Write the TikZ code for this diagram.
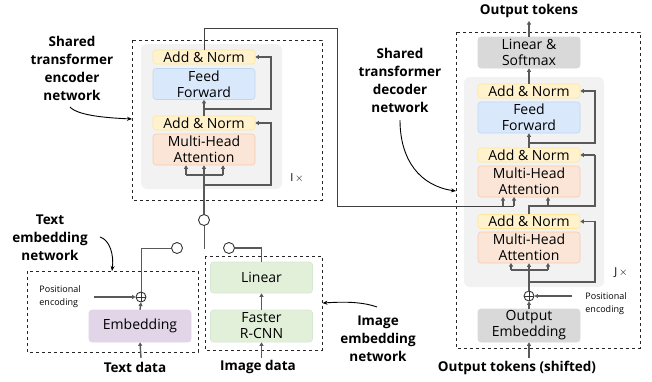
\documentclass[tikz,border=0pt]{standalone}
\usepackage{fontspec}
\setmainfont{Open Sans}
\usetikzlibrary{arrows.meta,shapes.geometric}
\definecolor{ln}{HTML}{595959}
\definecolor{anf}{HTML}{FFF2CC}\definecolor{and}{HTML}{FFE699}
\definecolor{fff}{HTML}{DAE8FC}\definecolor{ffd}{HTML}{BDD7EE}
\definecolor{mhf}{HTML}{FBE5D6}\definecolor{mhd}{HTML}{F8CBAD}
\definecolor{emf}{HTML}{E1D5E7}
\definecolor{grf}{HTML}{E2F0D9}\definecolor{grd}{HTML}{D5E8D4}
\definecolor{gyf}{HTML}{D9D9D9}
\definecolor{bgf}{HTML}{F2F2F2}
\tikzset{
  blk/.style={rounded corners=3pt, minimum width=102pt, inner sep=0pt, align=center, font=\fontsize{14}{16}\selectfont, line width=0.6pt},
  an/.style={blk, fill=anf, draw=and, minimum height=14pt},
  ff/.style={blk, fill=fff, draw=ffd, minimum height=31pt},
  mh/.style={blk, fill=mhf, draw=mhd, minimum height=31pt},
  em/.style={blk, fill=emf, draw=emf, minimum height=32pt},
  gr/.style={blk, fill=grf, draw=grd, minimum height=31pt},
  gy/.style={blk, fill=gyf, draw=gyf, minimum height=31pt},
  bg/.style={fill=bgf, rounded corners=6pt},
  dbox/.style={dashed, line width=0.9pt, draw=black!85},
  conn/.style={draw=ln, line width=1.4pt},
  arr/.style={conn, -{Triangle[length=3.5pt,width=4pt]}},
  thin/.style={draw=ln, line width=0.9pt},
  lbl/.style={align=center, font=\fontsize{13.5}{18}\selectfont\bfseries},
  dlbl/.style={align=center, font=\fontsize{13.5}{15}\selectfont\bfseries},
  small/.style={align=left, font=\fontsize{9}{13}\selectfont},
  sw/.style={circle, draw=black!80, line width=0.9pt, fill=white, minimum size=11pt, inner sep=0pt},
  opl/.style={circle, draw=black!80, line width=0.9pt, fill=white, minimum size=10pt, inner sep=0pt, path picture={\draw[black!80,line width=0.9pt] (path picture bounding box.north)--(path picture bounding box.south) (path picture bounding box.west)--(path picture bounding box.east);}},
  crv/.style={draw=black, line width=0.9pt, -{Stealth[length=5pt,width=4pt]}},
  rep/.style={font=\fontsize{11}{12}\selectfont}
}
\begin{document}
\begin{tikzpicture}[x=1pt,y=-1pt]
\useasboundingbox (0,0) rectangle (652,381);
% ================= Encoder =================
\fill[bg] (141,44) rectangle (282,189);
\draw[dbox] (132,40) rectangle (322,200);
\node[an] (eAN1) at (204,57) {Add \& Norm};
\node[ff] (eFF) at (204,84) {Feed\\Forward};
\node[an] (eAN2) at (204,123) {Add \& Norm};
\node[mh] (eMHA) at (204,149.5) {Multi-Head\\Attention};
\node[rep] (eI) at (297,178) {$\mathrm{I}\,\times$};
\coordinate (eSplit) at (204,175);
\coordinate (eSL) at (186,175);
\coordinate (eSR) at (223,175);
\node[sw] (eSw) at (204,220) {};
\coordinate (eBot) at (204,249);
\draw[conn] (eSw.north) -- (eSplit);
\draw[thin] (eSw.south) -- (eBot);
\draw[conn] (eSL) -- (eSR);
\draw[arr] (eSL) -- (eSL|-eMHA.south);
\draw[arr] (eSplit) -- (eMHA.south);
\draw[arr] (eSR) -- (eSR|-eMHA.south);
\coordinate (eR1) at (204,185);
\draw[arr] (eR1) -- (271,185) -- (271,123) -- (eAN2.east);
\draw[arr] (eAN2.north) -- (eFF.south);
\coordinate (eR2) at (204,109);
\draw[arr] (eR2) -- (271,109) -- (271,57) -- (eAN1.east);
\node[lbl] (eLbl) at (72,68) {Shared\\transformer\\encoder\\network};
\draw[crv] (70,107) .. controls (78,116) and (110,118) .. (132,119);
% ================= Decoder =================
\fill[bg] (464,77) rectangle (604,287);
\draw[dbox] (456,32) rectangle (640,348);
\node[gy] (dLS) at (529,52.5) {Linear \&\\Softmax};
\node[an] (dAN1) at (529,91) {Add \& Norm};
\node[ff] (dFF) at (529,117.5) {Feed\\Forward};
\node[an] (dAN2) at (529,155) {Add \& Norm};
\node[mh] (dMHA2) at (529,181.5) {Multi-Head\\Attention};
\node[an] (dAN3) at (529,221.5) {Add \& Norm};
\node[mh] (dMHA1) at (529,247.5) {Multi-Head\\Attention};
\node[opl] (dPlus) at (529,296) {};
\node[gy, minimum height=33pt] (dOE) at (529,325.5) {Output\\Embedding};
\node[rep] (dJ) at (621,273) {$\mathrm{J}\,\times$};
\node[dlbl] (dOut) at (529,11) {Output tokens};
\node[dlbl] (dIn) at (517,368) {Output tokens (shifted)};
\node[small] (dPE) at (606,303.5) {Positional\\encoding};
\coordinate (dPEs) at (572,296);
\draw[arr] (dPEs) -- (dPlus.east);
\draw[arr] (529,358) -- (dOE.south);
\draw[arr] (dOE.north) -- (dPlus.south);
\coordinate (dSplit) at (529,270);
\draw[conn] (dPlus.north) -- (dSplit);
\draw[conn] (511,270) -- (548,270);
\draw[arr] (511,270) -- (511,263);
\draw[arr] (dSplit) -- (dMHA1.south);
\draw[arr] (548,270) -- (548,263);
\draw[arr] (529,282) -- (595,282) -- (595,221.5) -- (dAN3.east);
\draw[conn] (dAN3.north) -- (529,206) -- (595,206) -- (595,155);
\draw[arr] (595,155) -- (dAN2.east);
\draw[arr] (548,206) -- (548,197);
\draw[arr] (dAN2.north) -- (dFF.south);
\draw[arr] (529,143) -- (595,143) -- (595,91) -- (dAN1.east);
\draw[arr] (dAN1.north) -- (dLS.south);
\draw[arr] (dLS.north) -- (529,21);
% encoder -> decoder
\draw[draw=black!75, line width=0.9pt] (eAN1.north) -- (204,28) -- (337,28) -- (337,206) -- (514,206);
\draw[arr] (514,206) -- (514,197);
\draw[arr] (503,206) -- (503,197);
\node[lbl] (dLbl) at (400,80) {Shared\\transformer\\decoder\\network};
\draw[crv] (400,120) .. controls (400,160) and (420,186) .. (456,191);
% ================= Text embedding =================
\draw[dbox] (27,271) rectangle (198,352);
\node[em] (tEmb) at (140,326) {Embedding};
\node[opl] (tPlus) at (141,297) {};
\node[small] (tPE) at (60,297) {Positional\\encoding};
\draw[arr] (94,297) -- (tPlus.west);
\draw[arr] (tEmb.north) -- (tPlus.south);
\node[sw] (tSw) at (177,248) {};
\draw[thin] (tPlus.north) -- (141,248) -- (tSw.west);
\draw[arr] (141,358) -- (tEmb.south);
\node[dlbl] (tData) at (135,367) {Text data};
\node[lbl] (tLbl) at (50,238) {Text\\embedding\\network};
\draw[crv] (100,237) .. controls (110,240) and (114,255) .. (112,271);
% ================= Image embedding =================
\draw[dbox] (205,256) rectangle (322,350);
\node[gr] (iLin) at (261.5,277.5) {Linear};
\node[gr, minimum height=32pt] (iFR) at (261.5,326) {Faster\\R-CNN};
\draw[arr] (iFR.north) -- (iLin.south);
\node[sw] (iSw) at (229,248) {};
\draw[draw=ln, line width=1.1pt] (iSw.east) -- (261.5,248) -- (iLin.north);
\draw[arr] (261.5,358) -- (iFR.south);
\node[dlbl] (iData) at (258,367) {Image data};
\node[lbl] (iLbl) at (378,339) {Image\\embedding\\network};
\draw[crv] (377,307) .. controls (360,301) and (340,302) .. (322.5,303);
\end{tikzpicture}
\end{document}
